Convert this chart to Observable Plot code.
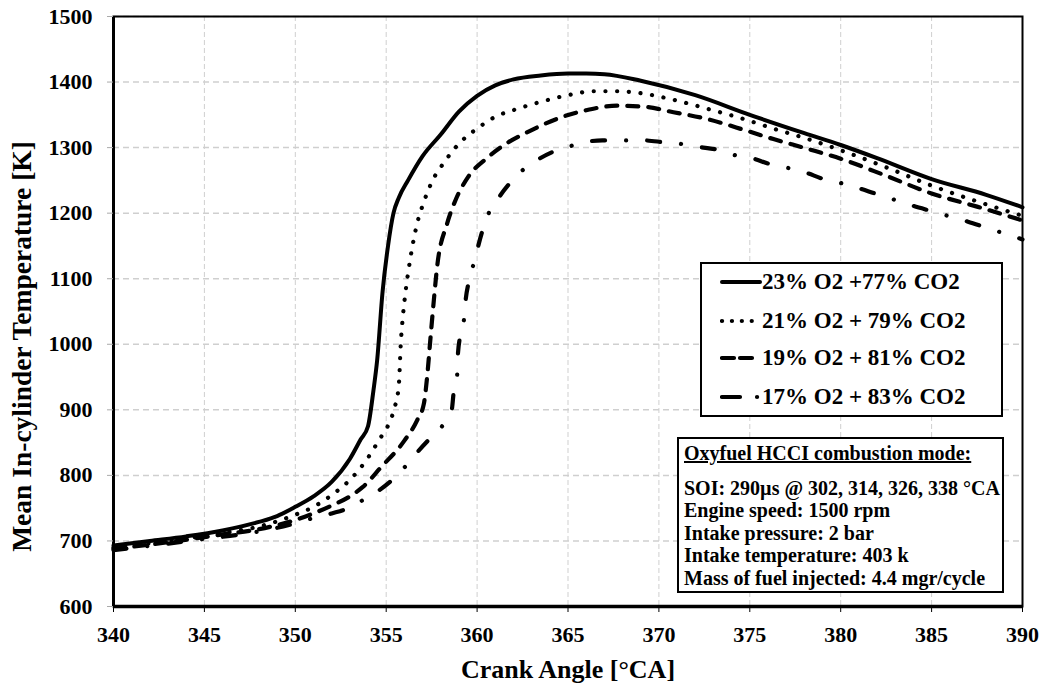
<!DOCTYPE html>
<html>
<head>
<meta charset="utf-8">
<script src="https://cdn.jsdelivr.net/npm/d3@7"></script>
<script src="https://cdn.jsdelivr.net/npm/@observablehq/plot@0.6"></script>
<style>
  body { margin: 0; background: #fff; }
  #wrap { position: relative; width: 1043px; height: 685px; font-family: "Liberation Serif", "Times New Roman", serif; font-weight: bold; color: #000; }
  .box { position: absolute; background: #fff; border: 2px solid #000; box-sizing: border-box; }
  .leg-row { position: absolute; left: 18px; height: 30px; display: flex; align-items: center; font-size: 23px; white-space: nowrap; }
  .leg-row svg { display: block; }
  .note { font-size: 20px; line-height: 22.5px; padding: 3px 0 0 5px; white-space: nowrap; }
</style>
</head>
<body>
<div id="wrap"></div>
<script>
// Crank angle [°CA] and mean in-cylinder temperature [K] per mixture
const ca23 = [340,342,344,346,348,349,350,351,352,353,353.6,354,354.3,354.5,354.8,355.1,355.4,355.7,356.2,357,358,359,360,361,362,363.5,365,366,367,369,372,375,378,380,382,385,388,390];
const t23  = [693,700,707,716,729,738,752,768,790,825,855,875,930,975,1080,1150,1200,1224,1250,1287,1320,1355,1379,1395,1404,1410,1413,1413,1412,1402,1380,1350,1322,1304,1284,1252,1228,1209];

const ca21 = [340,343,346,348,350,351,352,353,354,354.7,355.05,355.33,355.5,355.7,355.8,355.93,356.06,356.34,356.7,357.07,357.5,358.2,359,360,361,362.2,363.4,365,366.4,367.7,369,370.8,372.7,374.5,376.3,378.2,380,382.5,385,387.5,390];
const t21  = [690,700,712,722,740,752,770,793,827,858,873,891,907,940,1000,1046,1079,1133,1184,1217,1247,1278,1306,1329,1347,1359,1369,1380,1386,1386,1383,1373,1359,1345,1329,1313,1296,1270,1242,1218,1196];

const ca19 = [340,343,346,348,350,351,352,353,353.7,354.7,356,356.7,357.07,357.25,357.44,357.62,357.8,358.35,358.8,359.5,360.5,361.6,362.8,364.5,366,367.7,369.3,370.8,372.6,374.8,376.3,378.2,380,382.5,385,387.5,390];
const t19  = [688,698,710,718,732,742,754,768,782,812,853,884,909,950,1011,1067,1118,1184,1219,1255,1283,1306,1324,1345,1357,1364,1362,1354,1344,1326,1313,1298,1283,1257,1230,1210,1189];

const ca17 = [340,343,345,347,349,350,351,352,353,353.7,354.6,355.4,356,356.7,357.4,358.1,358.6,358.72,358.9,358.94,359.1,359.27,359.36,359.54,359.78,360.36,360.55,361.2,361.84,362.48,363.3,364.3,365.1,365.85,366.9,367.8,369.2,370.3,371.1,372.2,373.2,374.1,375.1,376.1,377.1,378.06,379.06,380,381,382,383,384,385,386,387,388,389,390];
const t17  = [686,696,703,710,720,727,735,742,751,762,777,795,812,835,856,876,899,929,952,983,1016,1036,1065,1095,1120,1179,1194,1224,1247,1265,1281,1295,1302,1308,1311,1311,1311,1308,1306,1301,1297,1289,1284,1275,1269,1262,1252,1246,1238,1229,1220,1211,1203,1195,1187,1178,1169,1160];

const seriesNames = ["23% O2 +77% CO2", "21% O2 + 79% CO2", "19% O2 + 81% CO2", "17% O2 + 83% CO2"];
const xTicks = [340,345,350,355,360,365,370,375,380,385,390];
const yTicks = [600,700,800,900,1000,1100,1200,1300,1400,1500];
const xTitle = "Crank Angle [°CA]";
const yTitle = "Mean In-cylinder Temperature [K]";
const noteTitle = "Oxyfuel HCCI combustion mode:";
const noteLines = ["SOI: 290µs @ 302, 314, 326, 338 °CA", "Engine speed: 1500 rpm", "Intake pressure: 2 bar", "Intake temperature: 403 k", "Mass of fuel injected: 4.4 mgr/cycle"];

const toRows = (xs, ys) => xs.map((x, i) => ({x, y: ys[i]}));
const styles = [
  {stroke: "#000", strokeWidth: 4, strokeDasharray: null, strokeLinecap: "round"},
  {stroke: "#000", strokeWidth: 4.2, strokeDasharray: "0.1,11.6", strokeLinecap: "round"},
  {stroke: "#000", strokeWidth: 4.2, strokeDasharray: "11,10", strokeLinecap: "round"},
  {stroke: "#000", strokeWidth: 4.2, strokeDasharray: "13,21,0.1,21", strokeLinecap: "round"}
];
const data = [toRows(ca23, t23), toRows(ca21, t21), toRows(ca19, t19), toRows(ca17, t17)];
const serif = "'Liberation Serif', 'Times New Roman', serif";

const plot = Plot.plot({
  width: 1043,
  height: 685,
  marginLeft: 113,
  marginRight: 21,
  marginTop: 16,
  marginBottom: 79,
  style: {fontFamily: serif, fontWeight: "bold", fontSize: "22px", color: "#000", background: "#fff", overflow: "visible"},
  x: {domain: [340, 390]},
  y: {domain: [600, 1500]},
  marks: [
    Plot.gridX(xTicks, {stroke: "#cfcfcf", strokeOpacity: 1, strokeDasharray: "5,3", strokeWidth: 1}),
    Plot.gridY(yTicks, {stroke: "#cfcfcf", strokeOpacity: 1, strokeDasharray: "6,4", strokeWidth: 1.5}),
    ...data.map((d, i) => Plot.line(d, {x: "x", y: "y", curve: "monotone-x", ...styles[i]})),
    Plot.frame({stroke: "#000", strokeWidth: 2}),
    Plot.ruleY([600], {stroke: "#000", strokeWidth: 3.5}),
    Plot.ruleX([340], {stroke: "#000", strokeWidth: 3}),
    Plot.axisX(xTicks, {tickSize: 6, tickPadding: 14, fontSize: 22, fontWeight: "bold", tickFormat: d3.format("d"), label: null}),
    Plot.axisY(yTicks, {tickSize: 6, tickPadding: 15, fontSize: 22, fontWeight: "bold", stroke: "#aaa", tickFormat: d3.format("d"), label: null}),
    Plot.text([xTitle], {frameAnchor: "bottom", dy: 63, fontSize: 26, fontWeight: "bold", lineAnchor: "middle", textAnchor: "middle", fill: "#000"}),
    Plot.text([yTitle], {frameAnchor: "left", dx: -91, dy: 35, rotate: -90, fontSize: 27.5, fontWeight: "bold", lineAnchor: "middle", textAnchor: "middle", fill: "#000"})
  ]
});

const wrap = document.getElementById("wrap");
wrap.appendChild(plot);

// Legend box
const leg = document.createElement("div");
leg.className = "box";
Object.assign(leg.style, {left: "700px", top: "262px", width: "303px", height: "155px"});
const ns = "http://www.w3.org/2000/svg";
const rowCenters = [18, 57, 94, 133];
seriesNames.forEach((name, i) => {
  const row = document.createElement("div");
  row.className = "leg-row";
  row.style.top = (rowCenters[i] - 15) + "px";
  const svg = document.createElementNS(ns, "svg");
  svg.setAttribute("width", 42);
  svg.setAttribute("height", 12);
  const s = styles[i];
  const ln = document.createElementNS(ns, "line");
  ln.setAttribute("y1", 6); ln.setAttribute("y2", 6);
  ln.setAttribute("stroke", s.stroke);
  ln.setAttribute("stroke-width", s.strokeWidth);
  ln.setAttribute("stroke-linecap", s.strokeLinecap);
  if (i === 0) { ln.setAttribute("x1", 2); ln.setAttribute("x2", 40); }
  if (i === 1) { ln.setAttribute("x1", 2); ln.setAttribute("x2", 41); ln.setAttribute("stroke-dasharray", "0.1,9.8"); }
  if (i === 2) { ln.setAttribute("x1", 2); ln.setAttribute("x2", 34); ln.setAttribute("stroke-dasharray", "12,6"); }
  if (i === 3) { ln.setAttribute("x1", 2); ln.setAttribute("x2", 38); ln.setAttribute("stroke-dasharray", "18,17,0.1,30"); }
  svg.appendChild(ln);
  row.appendChild(svg);
  const sp = document.createElement("span");
  sp.textContent = name;
  row.appendChild(sp);
  leg.appendChild(row);
});
wrap.appendChild(leg);

// Annotation box
const note = document.createElement("div");
note.className = "box note";
Object.assign(note.style, {left: "677px", top: "437px", width: "327px", height: "156px"});
const t = document.createElement("div");
t.textContent = noteTitle;
t.style.textDecoration = "underline";
t.style.marginBottom = "12px";
note.appendChild(t);
noteLines.forEach(l => { const d = document.createElement("div"); d.textContent = l; note.appendChild(d); });
wrap.appendChild(note);
</script>
</body>
</html>
